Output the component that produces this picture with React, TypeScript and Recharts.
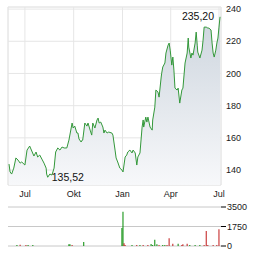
import React from "react";
import {
  ComposedChart,
  Area,
  XAxis,
  YAxis,
  CartesianGrid,
  ReferenceArea,
  ReferenceDot,
  BarChart,
  Bar,
  Cell,
} from "recharts";

// day offsets counted from 2023-06-01
const dayOffsets = [
  0, 2, 5, 9, 13, 17, 21, 24, 30, 34, 39, 43, 47, 51, 54, 58, 62, 66, 70, 71, 73, 77, 81, 85, 88, 92, 96, 100, 104, 109,
  113, 119, 121, 124, 128, 130, 132, 136, 138, 139, 143, 147, 149, 153, 156, 158, 162, 166, 168, 170, 173, 177, 179, 181,
  185, 188, 194, 196, 200, 202, 205, 209, 213, 215, 219, 222, 224, 228, 232, 234, 238, 241, 243, 247, 251, 253, 254, 258,
  260, 262, 266, 270, 271, 275, 277, 281, 283, 287, 288, 290, 294, 296, 300, 302, 304, 307, 309, 311, 313, 317, 319, 322,
  326, 328, 332, 336, 338, 339, 343, 345, 347, 351, 353, 355, 356, 360, 364, 366, 368, 372, 375, 377, 381, 383, 385, 387,
  390, 392, 394, 396, 398,
];

const prices = [
  143.7, 138.8, 137.5, 141.2, 147.5, 146.2, 144.3, 145.0, 143.1, 152.4, 154.9, 151.8, 148.7, 151.2, 148.1, 149.3, 146.8,
  144.3, 141.2, 137.5, 135.52, 137.5, 136.9, 141.2, 151.2, 153.7, 152.4, 154.3, 153.7, 153.7, 158.6, 169.2, 166.1, 167.3,
  163.0, 163.0, 159.3, 157.4, 158.6, 158.6, 169.2, 167.3, 169.2, 164.8, 161.7, 169.2, 166.1, 171.1, 172.3, 169.2, 169.8,
  166.7, 163.0, 164.8, 163.0, 163.6, 163.0, 161.7, 152.4, 147.5, 145.0, 141.2, 140.0, 138.8, 148.1, 149.3, 151.2, 152.4,
  150.6, 152.4, 150.6, 143.1, 148.1, 150.6, 166.7, 171.1, 166.7, 172.9, 169.8, 172.9, 166.7, 164.8, 171.1, 179.1, 189.7,
  188.4, 185.3, 197.8, 200.2, 204.0, 206.5, 212.7, 217.6, 218.9, 214.5, 205.2, 210.2, 202.1, 190.9, 189.7, 190.9, 181.6,
  189.7, 190.9, 206.5, 212.7, 222.0, 216.4, 209.6, 212.7, 211.4, 218.9, 225.7, 217.6, 213.3, 209.6, 214.5, 220.7, 228.8,
  228.8, 228.2, 228.2, 227.0, 218.9, 212.7, 210.2, 214.5, 218.9, 222.0, 228.8, 235.2,
];

const monthTicks = [30, 122, 214, 305, 396];
const monthLabels = ["Jul", "Okt", "Jan", "Apr", "Jul"];
const priceTicks = [140, 160, 180, 200, 220, 240];

const volDays = [
  15, 21, 32, 36, 45, 113, 115, 119, 141, 213, 215, 217, 219, 232, 241, 247, 253, 262, 268, 271, 275, 279, 283, 290, 294,
  298, 302, 309, 319, 326, 328, 336, 341, 351, 360, 368, 372, 375, 385, 392, 396,
];
const volumes = [
  100, 120, 100, 100, 100, 150, 150, 100, 350, 1620, 3080, 250, 100, 100, 100, 100, 100, 100, 180, 80, 560, 150, 100, 100,
  100, 100, 700, 200, 200, 100, 150, 200, 100, 100, 100, 100, 1350, 100, 100, 100, 1500,
];
const volUp = [
  true, false, false, true, true, true, true, false, true, true, true, false, false, true, false, true, false, false, true,
  true, true, true, false, true, true, false, false, false, true, false, false, false, true, true, true, false, false, false,
  false, false, false,
];
const volTicks = [0, 1750, 3500];

const X_DOMAIN: [number, number] = [-1.9, 399.8];
const Y_DOMAIN: [number, number] = [130.7, 241.3];
const FONT = "'Liberation Sans', Arial, sans-serif";
const LINE = "#33983a";

const priceData = dayOffsets.map((d, i) => ({ d, p: prices[i] }));
const volData = volDays.map((d, i) => ({ d, v: volumes[i], up: volUp[i] }));

const fmt = (v: number) => v.toFixed(2).replace(".", ",");

let minIdx = 0;
prices.forEach((p, i) => {
  if (p < prices[minIdx]) minIdx = i;
});
const lastIdx = prices.length - 1;

const monthFmt = (v: number) => monthLabels[monthTicks.indexOf(v)] ?? "";

export default function App() {
  return (
    <div style={{ position: "absolute", left: 0, top: 0, width: 264, height: 255, background: "#fff", fontFamily: FONT }}>
      <div style={{ position: "absolute", left: 0, top: 0 }}>
        <ComposedChart width={264} height={205} data={priceData} margin={{ top: 7, right: 0, bottom: 0, left: 8 }}>
          <defs>
            <linearGradient id="areaFill" x1="0" y1="0" x2="0" y2="1">
              <stop offset="0%" stopColor="#cdd5de" />
              <stop offset="100%" stopColor="#f7f8fa" />
            </linearGradient>
          </defs>
          <CartesianGrid stroke="#e6e6e6" strokeWidth={1} />
          <ReferenceArea
            x1={X_DOMAIN[0]}
            x2={X_DOMAIN[1]}
            y1={Y_DOMAIN[0]}
            y2={Y_DOMAIN[1]}
            fill="none"
            stroke="#e6e6e6"
            ifOverflow="visible"
          />
          <XAxis
            dataKey="d"
            type="number"
            domain={X_DOMAIN}
            allowDataOverflow
            ticks={monthTicks}
            tickFormatter={monthFmt}
            axisLine={false}
            tickLine={false}
            height={20}
            tickSize={4}
            tickMargin={2}
            tick={{ fontSize: 9, fill: "#1a1a1a", fontFamily: FONT }}
            interval={0}
          />
          <YAxis
            orientation="right"
            width={43}
            type="number"
            domain={Y_DOMAIN}
            allowDataOverflow
            ticks={priceTicks}
            axisLine={false}
            tickLine={false}
            tickSize={3}
            tickMargin={2}
            tick={{ fontSize: 9, fill: "#1a1a1a", fontFamily: FONT }}
            interval={0}
          />
          <Area
            type="linear"
            dataKey="p"
            stroke={LINE}
            strokeWidth={1}
            fill="url(#areaFill)"
            fillOpacity={1}
            dot={false}
            activeDot={false}
            isAnimationActive={false}
          />
          <ReferenceDot
            x={dayOffsets[lastIdx]}
            y={prices[lastIdx]}
            r={0}
            fill="none"
            stroke="none"
            label={(props: any) => (
              <text
                x={props.viewBox.x - 6}
                y={props.viewBox.y + 3.5}
                textAnchor="end"
                fontSize={10.5}
                fill="#111"
                fontFamily={FONT}
              >
                {fmt(prices[lastIdx])}
              </text>
            )}
          />
          <ReferenceDot
            x={dayOffsets[minIdx]}
            y={prices[minIdx]}
            r={0}
            fill="none"
            stroke="none"
            label={(props: any) => (
              <text
                x={props.viewBox.x + 4}
                y={props.viewBox.y + 3.5}
                textAnchor="start"
                fontSize={10.5}
                fill="#111"
                fontFamily={FONT}
              >
                {fmt(prices[minIdx])}
              </text>
            )}
          />
        </ComposedChart>
      </div>
      <div style={{ position: "absolute", left: 0, top: 200 }}>
        <BarChart width={264} height={50} data={volData} margin={{ top: 7, right: 0, bottom: 4, left: 8 }}>
          <CartesianGrid stroke="#c8c8c8" vertical={false} />
          <XAxis
            dataKey="d"
            type="number"
            orientation="top"
            domain={X_DOMAIN}
            allowDataOverflow
            ticks={monthTicks}
            tick={false}
            axisLine={false}
            tickLine={{ stroke: "#000" }}
            tickSize={3}
            height={0}
            interval={0}
          />
          <YAxis
            orientation="right"
            width={43}
            type="number"
            domain={[0, 3500]}
            ticks={volTicks}
            axisLine={false}
            tickLine={{ stroke: "#000" }}
            tickSize={5}
            tickMargin={1}
            tick={{ fontSize: 9, fill: "#1a1a1a", fontFamily: FONT }}
            interval={0}
          />
          <Bar dataKey="v" barSize={1} isAnimationActive={false}>
            {volData.map((e, i) => (
              <Cell key={i} fill={e.up ? "#008a00" : "#c01818"} />
            ))}
          </Bar>
        </BarChart>
      </div>
    </div>
  );
}
